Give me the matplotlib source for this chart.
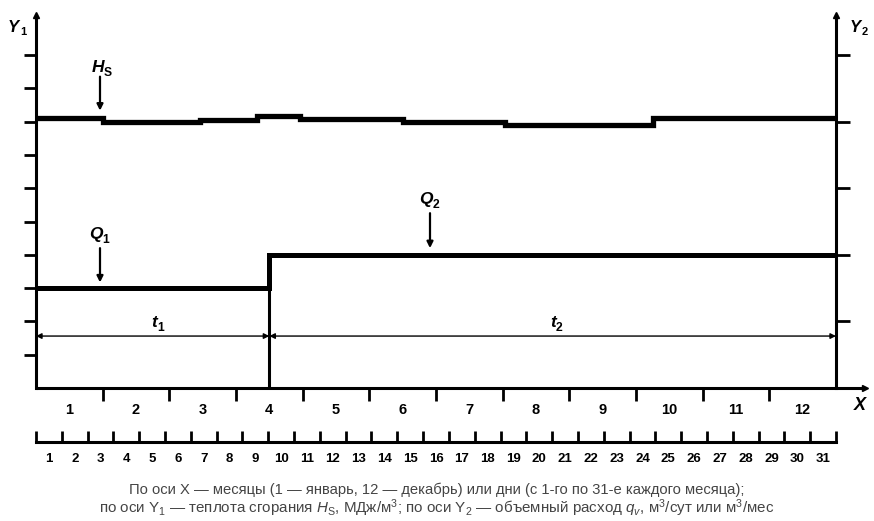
import numpy as np
import matplotlib
matplotlib.use("Agg")
import matplotlib.pyplot as plt

plt.rcParams["font.family"] = ["Liberation Sans", "DejaVu Sans"]
plt.rcParams["mathtext.fontset"] = "custom"
plt.rcParams["mathtext.rm"] = "Liberation Sans"
plt.rcParams["mathtext.it"] = "Liberation Sans:italic"

# ---------- data ----------
months = list(range(1, 13))
days = list(range(1, 32))

# H_S (Y1) step curve: edges in months, values in Y-tick units
H_edges = [0, 1.0, 2.46, 3.31, 3.96, 5.5, 7.03, 9.25, 12]
H_values = [8.12, 7.99, 8.05, 8.17, 8.09, 8.00, 7.90, 8.11]

# q (Y2) step curve
Q_edges = [0, 3.5, 12]
Q_values = [3.0, 4.0]
t_split = 3.5

y_ticks_left = list(range(1, 11))
y_ticks_right = [2, 4, 6, 8, 10]

caption = [
    "По оси X — месяцы (1 — январь, 12 — декабрь) или дни (с 1-го по 31-е каждого месяца);",
    r"по оси Y$_1$ — теплота сгорания $H_\mathrm{S}$, МДж/м$^3$; по оси Y$_2$ — объемный расход $q_v$, м$^3$/сут или м$^3$/мес",
]

W, H = 874, 521
YTOP = 11.2
XEND = 12.43

fig = plt.figure(figsize=(W / 100, H / 100), dpi=100)
ax = fig.add_axes([36 / W, (H - 388) / H, 800 / W, YTOP * 33.3 / H])
ax.set_xlim(0, 12)
ax.set_ylim(0, YTOP)

LW_AX = 2.2
for s in ["top", "bottom"]:
    ax.spines[s].set_visible(False)
for s in ["left", "right"]:
    ax.spines[s].set_linewidth(LW_AX)

# x axis line with arrow
ax.plot([0, XEND], [0, 0], color="k", lw=LW_AX, clip_on=False, solid_capstyle="butt")
ax.plot([XEND], [0], marker=">", color="k", ms=5, clip_on=False)
# y axis arrows
ax.plot([0], [YTOP], marker="^", color="k", ms=5, clip_on=False)
ax.plot([12], [YTOP], marker="^", color="k", ms=5, clip_on=False)

# month ticks + labels
ax.set_xticks(months[:-1])
ax.set_xticklabels([])
ax.tick_params(axis="x", which="major", direction="out", length=9, width=2, bottom=True)
ax.set_xticks([m - 0.5 for m in months], minor=True)
ax.set_xticklabels([str(m) for m in months], minor=True, fontsize=10.5, fontweight="bold")
ax.tick_params(axis="x", which="minor", length=0, pad=11)

# left y ticks
ax.set_yticks(y_ticks_left)
ax.set_yticklabels([])
ax.tick_params(axis="y", direction="out", length=9, width=2)

# right y ticks
ax2 = ax.twinx()
ax2.set_ylim(0, YTOP)
for s in ["top", "bottom", "left", "right"]:
    ax2.spines[s].set_visible(False)
ax2.set_yticks(y_ticks_right)
ax2.set_yticklabels([])
ax2.tick_params(axis="y", direction="out", length=10, width=2)

# curves
ax.stairs(H_values, H_edges, baseline=None, color="k", lw=3.8)
ax.stairs(Q_values, Q_edges, baseline=None, color="k", lw=3.6)
ax.vlines(t_split, 0, Q_values[1], color="k", lw=2.2)

# dimension lines t1 / t2
yd = 1.56
dim = dict(arrowstyle="<|-|>", lw=1.0, color="k", mutation_scale=8, shrinkA=0, shrinkB=0)
ax.annotate("", xy=(0, yd), xytext=(t_split, yd), arrowprops=dim)
ax.annotate("", xy=(t_split, yd), xytext=(12, yd), arrowprops=dim)


def sub_label(x, y, main, sub, size=12.5):
    ax.text(x, y, main, ha="right", va="center", fontsize=size,
            fontweight="bold", fontstyle="italic")
    ax.annotate(sub, xy=(x, y), xytext=(0, -4), textcoords="offset points",
                ha="left", va="center", fontsize=size * 0.7, fontweight="bold")


pointer = dict(arrowstyle="-|>", lw=1.6, color="k", mutation_scale=9, shrinkA=0, shrinkB=0)
ax.annotate("", xy=(0.96, 8.33), xytext=(0.96, 9.35), arrowprops=pointer)
sub_label(1.02, 9.62, "H", "S")
ax.annotate("", xy=(0.96, 3.17), xytext=(0.96, 4.2), arrowprops=pointer)
sub_label(1.0, 4.62, "Q", "1")
ax.annotate("", xy=(5.91, 4.2), xytext=(5.91, 5.25), arrowprops=pointer)
sub_label(5.95, 5.65, "Q", "2")
sub_label(1.82, 1.98, "t", "1")
sub_label(7.8, 1.98, "t", "2")

# axis names
fig.text(13 / W, 1 - 27 / H, "Y", fontsize=12, fontweight="bold", fontstyle="italic",
         ha="center", va="center")
fig.text(23 / W, 1 - 32 / H, "1", fontsize=8, fontweight="bold", ha="center", va="center")
fig.text(855 / W, 1 - 27 / H, "Y", fontsize=12, fontweight="bold", fontstyle="italic",
         ha="center", va="center")
fig.text(865 / W, 1 - 32 / H, "2", fontsize=8, fontweight="bold", ha="center", va="center")
fig.text(860 / W, 1 - 405 / H, "X", fontsize=13, fontweight="bold", fontstyle="italic",
         ha="center", va="center")

# day axis
axd = fig.add_axes([36 / W, (H - 442) / H, 800 / W, 0.02])
axd.set_xlim(0, 31)
axd.set_ylim(0, 1)
for s in ["top", "left", "right"]:
    axd.spines[s].set_visible(False)
axd.spines["bottom"].set_linewidth(LW_AX)
axd.set_yticks([])
axd.set_xticks(range(0, 32))
axd.set_xticklabels([])
axd.tick_params(axis="x", which="major", direction="in", length=8, width=2)
axd.set_xticks([d - 0.5 for d in days], minor=True)
axd.set_xticklabels([str(d) for d in days], minor=True, fontsize=9.5, fontweight="bold")
axd.tick_params(axis="x", which="minor", length=0, pad=8)
axd.patch.set_visible(False)

# caption
fig.text(437 / W, 1 - 490 / H, caption[0], ha="center", va="center", fontsize=10.6, color="#444444")
fig.text(437 / W, 1 - 508 / H, caption[1], ha="center", va="center", fontsize=10.9, color="#444444")

fig.savefig("out.png", dpi=100)
